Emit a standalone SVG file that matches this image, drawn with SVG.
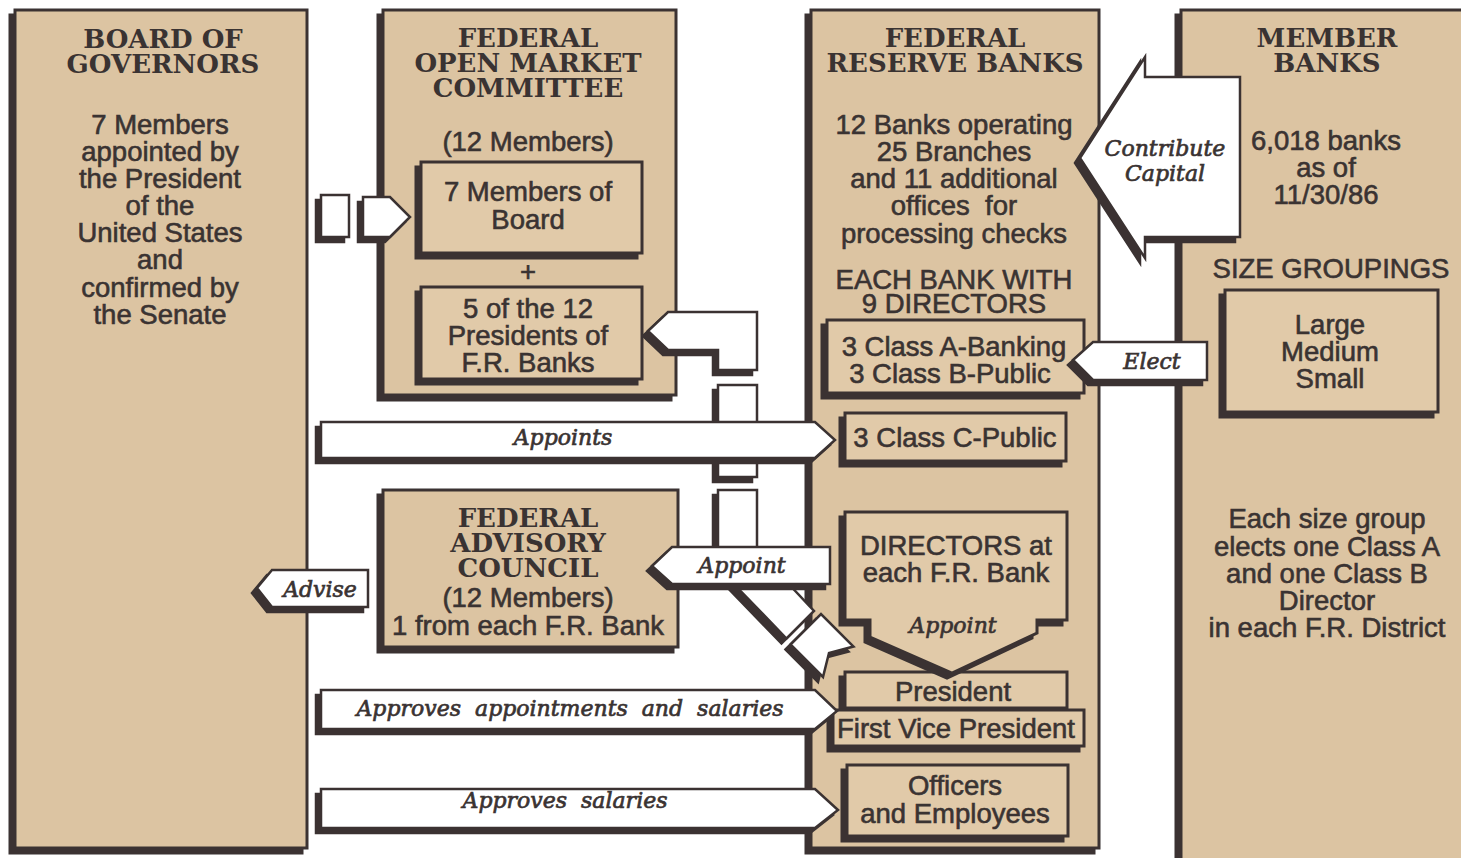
<svg xmlns="http://www.w3.org/2000/svg" width="1461" height="858" viewBox="0 0 1461 858">
<defs>
<filter id="shd" filterUnits="userSpaceOnUse" x="0" y="0" width="1461" height="858">
<feOffset in="SourceAlpha" dx="-5" dy="5" result="o"/>
<feFlood flood-color="#3a3332"/>
<feComposite in2="o" operator="in" result="s"/>
<feMerge><feMergeNode in="s"/><feMergeNode in="SourceGraphic"/></feMerge>
</filter>
<style>
.panel{fill:#dcc4a2;stroke:#3a3332;stroke-width:3;filter:url(#shd)}
.inner{fill:#e1caa9;stroke:#3a3332;stroke-width:3;filter:url(#shd)}
.arrow{fill:#ffffff;stroke:#3a3332;stroke-width:2.5;stroke-linejoin:miter;filter:url(#shd)}
.ttl{font-family:"DejaVu Serif","Liberation Serif",serif;font-weight:bold;font-size:26px;fill:#3a3332;text-anchor:middle}
.txt{font-family:"Liberation Sans",Arial,sans-serif;font-size:27.5px;fill:#3a3332;stroke:#3a3332;stroke-width:0.6;text-anchor:middle}
.lbl{font-family:"DejaVu Serif","Liberation Serif",serif;font-style:italic;font-size:22px;fill:#3a3332;stroke:#3a3332;stroke-width:0.7;text-anchor:middle}
</style>
</defs>
<rect width="1461" height="858" fill="#ffffff"/>

<g id="board-of-governors">
<rect class="panel" x="15" y="10" width="292" height="838"/>
<text class="ttl" x="163" y="48">BOARD OF</text>
<text class="ttl" x="163" y="73">GOVERNORS</text>
<text class="txt" x="160" y="134">7 Members</text>
<text class="txt" x="160" y="161">appointed by</text>
<text class="txt" x="160" y="188">the President</text>
<text class="txt" x="160" y="215">of the</text>
<text class="txt" x="160" y="242">United States</text>
<text class="txt" x="160" y="269">and</text>
<text class="txt" x="160" y="297">confirmed by</text>
<text class="txt" x="160" y="324">the Senate</text>
</g>

<g id="fomc">
<rect class="panel" x="383" y="10" width="293" height="385"/>
<text class="ttl" x="528" y="47">FEDERAL</text>
<text class="ttl" x="528" y="72">OPEN MARKET</text>
<text class="ttl" x="528" y="97">COMMITTEE</text>
<text class="txt" x="528" y="151">(12 Members)</text>
<text class="txt" x="528" y="281">+</text>
</g>
<g id="fomc-board-members">
<rect class="inner" x="421" y="162" width="221" height="91"/>
<text class="txt" x="528" y="201">7 Members of</text>
<text class="txt" x="528" y="229">Board</text>
</g>
<g id="fomc-presidents">
<rect class="inner" x="421" y="287" width="221" height="92"/>
<text class="txt" x="528" y="318">5 of the 12</text>
<text class="txt" x="528" y="345">Presidents of</text>
<text class="txt" x="528" y="372">F.R. Banks</text>
</g>

<g id="federal-advisory-council">
<rect class="panel" x="383" y="490" width="295" height="157"/>
<text class="ttl" x="528" y="527">FEDERAL</text>
<text class="ttl" x="528" y="552">ADVISORY</text>
<text class="ttl" x="528" y="577">COUNCIL</text>
<text class="txt" x="528" y="607">(12 Members)</text>
<text class="txt" x="528" y="635">1 from each F.R. Bank</text>
</g>

<g id="federal-reserve-banks">
<rect class="panel" x="811" y="10" width="288" height="838"/>
<text class="ttl" x="955" y="47">FEDERAL</text>
<text class="ttl" x="955" y="72">RESERVE BANKS</text>
<text class="txt" x="954" y="134">12 Banks operating</text>
<text class="txt" x="954" y="161">25 Branches</text>
<text class="txt" x="954" y="188">and 11 additional</text>
<text class="txt" x="954" y="215" xml:space="preserve">offices  for</text>
<text class="txt" x="954" y="243">processing checks</text>
<text class="txt" x="954" y="289">EACH BANK WITH</text>
<text class="txt" x="954" y="313">9 DIRECTORS</text>
</g>
<g id="frb-class-ab">
<rect class="inner" x="827" y="320" width="257" height="73"/>
<text class="txt" x="954" y="356">3 Class A-Banking</text>
<text class="txt" x="950" y="383">3 Class B-Public</text>
</g>
<g id="frb-class-c">
<rect class="inner" x="845" y="413" width="221" height="48"/>
<text class="txt" x="955" y="447">3 Class C-Public</text>
</g>
<g id="frb-president">
<rect class="inner" x="845" y="672" width="222" height="36"/>
<text class="txt" x="953" y="701">President</text>
</g>
<g id="frb-first-vice-president">
<rect class="inner" x="833" y="710" width="251" height="36"/>
<text class="txt" x="956" y="738">First Vice President</text>
</g>
<g id="frb-directors">
<polygon class="inner" points="845,512 1067,512 1067,620 1037,620 1037,633 952,673 870,637 870,620 845,620"/>
<text class="txt" x="956" y="555">DIRECTORS at</text>
<text class="txt" x="956" y="582">each F.R. Bank</text>
<text class="lbl" x="953" y="633">Appoint</text>
</g>
<g id="frb-officers">
<rect class="inner" x="847" y="765" width="221" height="71"/>
<text class="txt" x="955" y="795">Officers</text>
<text class="txt" x="955" y="823">and Employees</text>
</g>

<g id="member-banks">
<rect class="panel" x="1181" y="10" width="295" height="880"/>
<text class="ttl" x="1327" y="47">MEMBER</text>
<text class="ttl" x="1327" y="72">BANKS</text>
<text class="txt" x="1326" y="150">6,018 banks</text>
<text class="txt" x="1326" y="177">as of</text>
<text class="txt" x="1326" y="204">11/30/86</text>
<text class="txt" x="1331" y="278">SIZE GROUPINGS</text>
<text class="txt" x="1327" y="528">Each size group</text>
<text class="txt" x="1327" y="556">elects one Class A</text>
<text class="txt" x="1327" y="583">and one Class B</text>
<text class="txt" x="1327" y="610">Director</text>
<text class="txt" x="1327" y="637">in each F.R. District</text>
</g>
<g id="size-groupings">
<rect class="inner" x="1225" y="290" width="213" height="122"/>
<text class="txt" x="1330" y="334">Large</text>
<text class="txt" x="1330" y="361">Medium</text>
<text class="txt" x="1330" y="388">Small</text>
</g>

<g id="connectors">
<rect class="arrow" x="321" y="195" width="28" height="42"/>
<polygon class="arrow" points="363,197 390,197 410,217 390,237 363,237"/>
<polygon class="arrow" points="648,331 668,312 757,312 757,370 718,370 718,350 668,350"/>
<rect class="arrow" x="718" y="385" width="39" height="40"/>
<rect class="arrow" x="718" y="455" width="39" height="22"/>
<rect class="arrow" x="718" y="490" width="39" height="60"/>
<polygon class="arrow" points="728,578 783,578 814,611 786.5,638.5"/>
<polygon class="arrow" points="790.5,644.5 821,614 853.5,646.5 829,653 823,677"/>
<polygon class="arrow" points="321,422 815,422 835,440 815,458 321,458"/>
<text class="lbl" x="563" y="445">Appoints</text>
<polygon class="arrow" points="652,566 672,547 830,547 830,584 672,584"/>
<text class="lbl" x="742" y="573">Appoint</text>
<polygon class="arrow" points="257,588 272,570 368,570 368,607 272,607"/>
<text class="lbl" x="320" y="597">Advise</text>
<polygon class="arrow" points="1073,360 1093,342 1207,342 1207,380 1093,380"/>
<text class="lbl" x="1152" y="369">Elect</text>
<polygon class="arrow" points="1080,158 1145,57 1145,77 1240,77 1240,237 1145,237 1145,258"/>
<text class="lbl" x="1165" y="156">Contribute</text>
<text class="lbl" x="1165" y="181">Capital</text>
<polygon class="arrow" points="321,690 815,690 837,711 815,729 321,729"/>
<text class="lbl" x="570" y="716" xml:space="preserve">Approves  appointments  and  salaries</text>
<polygon class="arrow" points="321,789 815,789 838,810 815,828 321,828"/>
<text class="lbl" x="565" y="808" xml:space="preserve">Approves  salaries</text>
</g>
</svg>
